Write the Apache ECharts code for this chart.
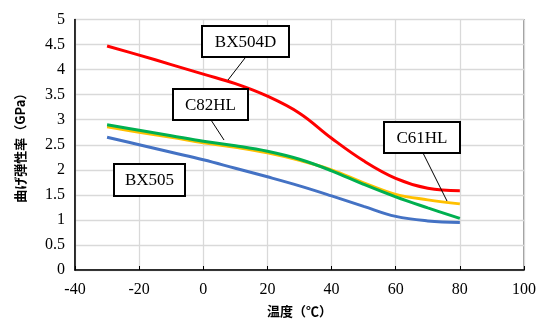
<!DOCTYPE html>
<html><head><meta charset="utf-8">
<script src="https://cdn.jsdelivr.net/npm/echarts@6/dist/echarts.min.js"></script>
<style>html,body{margin:0;padding:0;background:#fff}#c{width:539px;height:320px}</style>
</head><body><div id="c"></div>
<script>
const temps = [-30, -20, -10, 0, 10, 20, 30, 40, 50, 60, 70, 80];
const bx504d = [4.47, 4.29, 4.10, 3.91, 3.72, 3.47, 3.13, 2.63, 2.18, 1.83, 1.63, 1.58];
const c82hl  = [2.86, 2.75, 2.65, 2.54, 2.45, 2.34, 2.19, 2.00, 1.74, 1.51, 1.40, 1.32];
const c61hl  = [2.90, 2.79, 2.68, 2.57, 2.48, 2.37, 2.21, 1.98, 1.71, 1.46, 1.24, 1.03];
const bx505  = [2.65, 2.50, 2.35, 2.20, 2.03, 1.86, 1.68, 1.48, 1.27, 1.07, 0.98, 0.95];
const seriesNames = ['BX504D', 'C82HL', 'C61HL', 'BX505'];
const yTickLabels = ['0','0.5','1','1.5','2','2.5','3','3.5','4','4.5','5'];

const chart = echarts.init(document.getElementById('c'));
const pair = arr => temps.map((t, i) => [t, arr[i]]);
const serif = '"Liberation Serif","Times New Roman",serif';
const mk = (name, data, color, z) => ({
  name, type: 'line', data: pair(data), smooth: 0.4, symbol: 'none', z,
  lineStyle: { color, width: 3 }
});
const box = (x, y, w, h, text) => ([
  { type: 'rect', z: 100, shape: { x, y, width: w, height: h }, style: { fill: '#fff', stroke: '#000', lineWidth: 2 } },
  { type: 'text', z: 101, x: x + w / 2, y: y + h / 2 + 1, style: { text, fill: '#000', fontSize: 17, fontFamily: serif, align: 'center', verticalAlign: 'middle' } }
]);
const leader = (x1, y1, x2, y2) => ({ type: 'line', z: 99, shape: { x1, y1, x2, y2 }, style: { stroke: '#000', lineWidth: 1 } });

chart.setOption({
  animation: false,
  grid: { left: 75, right: 15, top: 19.5, bottom: 50, show: true, borderColor: '#595959', borderWidth: 1.2,
          containLabel: false, outerBoundsMode: 'none' },
  xAxis: {
    type: 'value', min: -40, max: 100, interval: 20,
    name: '温度（℃）', nameLocation: 'middle', nameGap: 35,
    nameTextStyle: { fontFamily: '"Noto Sans CJK JP",sans-serif', fontWeight: 'bold', fontSize: 13, color: '#000' },
    axisLine: { onZero: false, lineStyle: { color: '#000', width: 1.5 } },
    axisTick: { inside: true, length: 4, lineStyle: { color: '#000' } },
    axisLabel: { fontFamily: serif, fontSize: 16, color: '#000', margin: 12 },
    splitLine: { lineStyle: { color: '#d9d9d9', width: 1.3 } }
  },
  yAxis: {
    type: 'value', min: 0, max: 5, interval: 0.5,
    name: '曲げ弾性率（GPa）', nameLocation: 'middle', nameGap: 48,
    nameTextStyle: { fontFamily: '"Noto Sans CJK JP",sans-serif', fontWeight: 'bold', fontSize: 13, color: '#000' },
    axisLine: { show: true, onZero: false, lineStyle: { color: '#000', width: 1.5 } },
    axisTick: { show: false },
    axisLabel: { fontFamily: serif, fontSize: 16, color: '#000', margin: 10,
      formatter: v => yTickLabels[Math.round(v * 2)] },
    splitLine: { lineStyle: { color: '#d9d9d9', width: 1.3 } }
  },
  series: [
    mk(seriesNames[3], bx505, '#4472c4', 2),
    mk(seriesNames[1], c82hl, '#ffc000', 3),
    mk(seriesNames[2], c61hl, '#00b050', 4),
    mk(seriesNames[0], bx504d, '#ff0000', 5)
  ],
  graphic: [
    leader(245, 58, 228, 80),
    leader(211, 120, 224, 140),
    leader(423, 153, 447, 201),
    ...box(202, 26, 87, 31, 'BX504D'),
    ...box(173, 89, 75, 31, 'C82HL'),
    ...box(384, 122, 76, 31, 'C61HL'),
    ...box(114, 164, 71, 32, 'BX505')
  ]
});
</script></body></html>
